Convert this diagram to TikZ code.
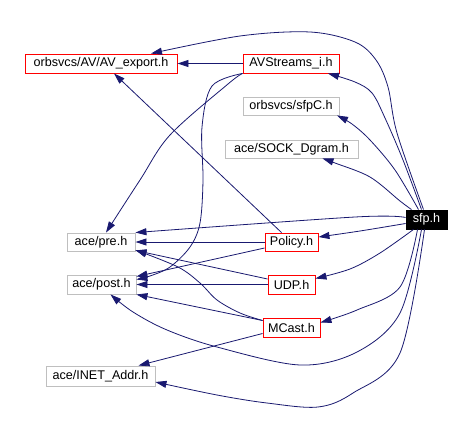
\documentclass[tikz,border=0pt]{standalone}
\usepackage{fontspec}
\setmainfont{Liberation Sans}
\usetikzlibrary{arrows.meta}
\definecolor{edgec}{RGB}{25,25,112}
\definecolor{grayb}{RGB}{191,191,191}
\begin{document}
\begin{tikzpicture}[x=1pt,y=-1pt,
  box/.style={draw, line width=0.9pt, inner sep=0pt, minimum height=19pt, font=\fontsize{12.6}{14}\selectfont, text=black},
  redbox/.style={box, draw=red},
  graybox/.style={box, draw=grayb},
  blackbox/.style={box, fill=black, draw=black, text=white},
  edge/.style={draw=edgec, line width=0.8pt, -{Triangle[length=11pt,width=7pt]}},
  sm/.style={smooth, tension=0.55}]
\useasboundingbox (0,0) rectangle (470,441);
\fill[white] (0,0) rectangle (470,441);

\node[redbox, minimum width=152pt] (avexp) at (101,63.5) {orbsvcs/AV/AV\_export.h};
\node[redbox, minimum width=96pt] (avstr) at (291,63.5) {AVStreams\_i.h};
\node[graybox, minimum width=96pt, minimum height=18pt] (sfpc) at (291,106) {orbsvcs/sfpC.h};
\node[graybox, minimum width=133pt, minimum height=18pt] (sock) at (291.5,149) {ace/SOCK\_Dgram.h};
\node[blackbox, minimum width=41pt] (sfp) at (426.5,219.5) {sfp.h};
\node[graybox, minimum width=68pt, minimum height=18pt] (pre) at (101,242) {ace/pre.h};
\node[redbox, minimum width=53pt, minimum height=18pt] (policy) at (291.5,242) {Policy.h};
\node[graybox, minimum width=69pt] (post) at (101.5,284.5) {ace/post.h};
\node[redbox, minimum width=47pt] (udp) at (291.5,284.5) {UDP.h};
\node[redbox, minimum width=57pt] (mcast) at (291.5,327.5) {MCast.h};
\node[graybox, minimum width=109pt, minimum height=20pt] (inet) at (100.5,376) {ace/INET\_Addr.h};

% AVStreams_i.h
\draw[edge] (avstr.west) -- (avexp.east);
\draw[edge] plot[sm] coordinates {(avstr.south west) (228,84) (170,135) (140,180) ([xshift=5pt]pre.north)};
\draw[edge] plot[sm] coordinates {(avstr.south west) (212,86) (202,127) (203,180) (200,223) (190,247) (170,267) (150,276) ([yshift=5pt]post.east)};

% sfp.h
\draw[edge] plot[sm] coordinates {([xshift=-3pt]sfp.north) (397,133) (388,87) (376,60) (355,42) (310,32) (240,36) ([xshift=50pt]avexp.north)};
\draw[edge] plot[sm] coordinates {([xshift=-5pt]sfp.north) (403,160) (385,118) (372,93) (355,82) ([xshift=37pt]avstr.south)};
\draw[edge] plot[sm] coordinates {([xshift=-8pt]sfp.north) (395,170) (370,140) (352,124) ([xshift=46pt]sfpc.south)};
\draw[edge] plot[sm] coordinates {([xshift=-15pt]sfp.north) (400,201) (370,177) (335,163) ([xshift=31pt]sock.south)};
\draw[edge] plot[sm] coordinates {([yshift=2pt]sfp.west) (355,217) (pre.north east)};
\draw[edge] plot[sm] coordinates {([yshift=-4pt]sfp.west) (360,231) ([yshift=5pt]policy.east)};
\draw[edge] plot[sm] coordinates {([xshift=-13pt]sfp.south) (380,253) (350,269) ([yshift=6pt]udp.east)};
\draw[edge] plot[sm] coordinates {([xshift=-9pt]sfp.south) (400,287) (357,310) ([yshift=5pt]mcast.east)};
\draw[edge] plot[sm] coordinates {([xshift=-5pt]sfp.south) (400,313) (357,352) (300,365) (217,347) (167,330) (133,312) ([xshift=9pt]post.south)};
\draw[edge] plot[sm] coordinates {([xshift=-2pt]sfp.south) (400,353) (353,393) (318,407) (267,403) (217,395) ([yshift=-6pt]inet.east)};

% Policy.h
\draw[edge] ([xshift=-10pt]policy.north) -- ([xshift=13pt]avexp.south);
\draw[edge] (policy.west) -- (pre.east);
\draw[edge] ([yshift=-6pt]policy.west) -- ([yshift=8pt]post.east);

% UDP.h
\draw[edge] ([yshift=5.5pt]udp.west) -- ([yshift=1pt]pre.south east);
\draw[edge] (udp.west) -- (post.east);

% MCast.h
\draw[edge] plot[sm] coordinates {([yshift=7pt]mcast.west) (240,313) (217,300) (200,283) (178,267) ([yshift=-8pt]pre.east)};
\draw[edge] ([yshift=7pt]mcast.west) -- (post.south east);
\draw[edge] ([yshift=-6pt]mcast.west) -- ([xshift=38pt]inet.north);
\end{tikzpicture}
\end{document}
